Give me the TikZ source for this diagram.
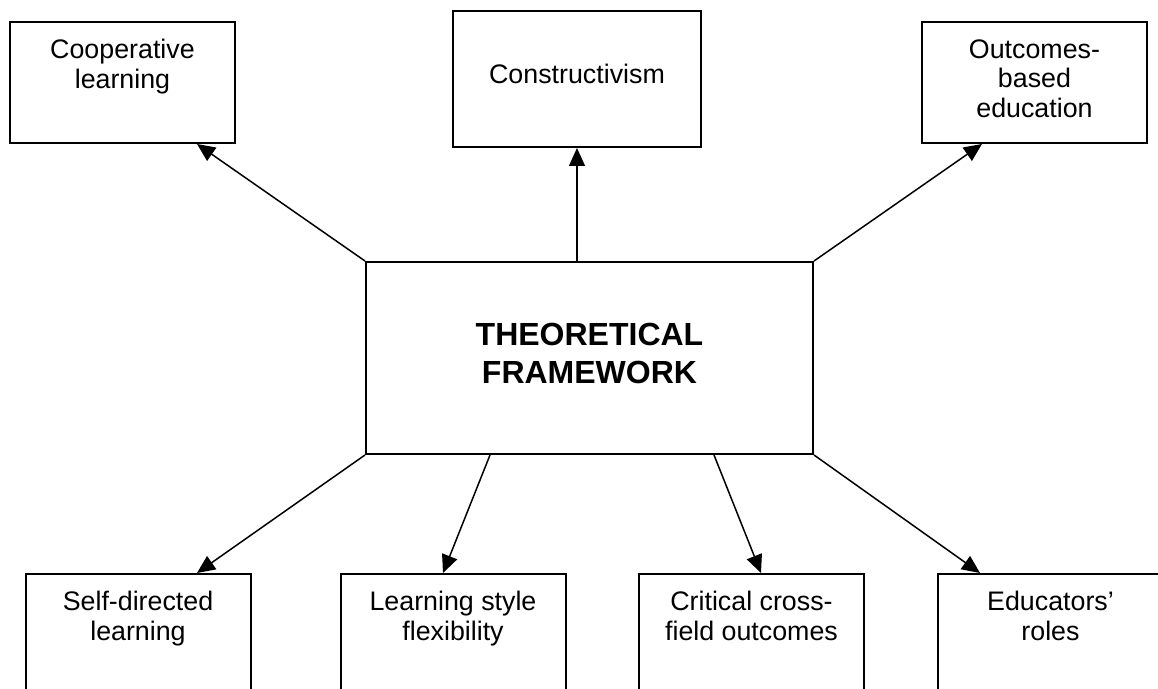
\documentclass[tikz,border=0pt]{standalone}
\usepackage{fontspec}
\setmainfont{Liberation Sans}
\usetikzlibrary{arrows.meta,calc}

\begin{document}
\begin{tikzpicture}[x=0.5pt, y=-0.5pt,
        box/.style={draw, rectangle, line width=1pt, inner sep=0pt, minimum width=112.5pt},
        boxtext/.style={anchor=north, align=center, inner sep=0pt, font=\fontsize{13.4}{14.75}\selectfont},
        link/.style={line width=0.75pt, -{Triangle[length=9pt,width=8pt]}}]
        \clip (0,0) rectangle (1158,689);
        \node[box, minimum height=60.5pt] (coop) at (122.5,82.5) {};
        \node[boxtext] (coop-t) at (122.5,39) {Cooperative\\learning};
        \node[box, minimum width=124pt, minimum height=68pt] (constr) at (577,79) {};
        \node[boxtext] (constr-t) at (577,64) {Constructivism};
        \node[box, minimum height=60.5pt] (obe) at (1034.5,82.5) {};
        \node[boxtext] (obe-t) at (1034.5,39) {Outcomes-\\based\\education};
        \node[box, minimum width=223.5pt, minimum height=96pt] (frame) at (589.5,358) {};
        \node[boxtext, font=\bfseries\fontsize{16}{19}\selectfont] (frame-t) at (589.5,323) {THEORETICAL\\FRAMEWORK};
        \node[box, minimum height=75pt] (sdl) at (138,649) {};
        \node[boxtext] (sdl-t) at (138,591) {Self-directed\\learning};
        \node[box, minimum height=75pt] (lsf) at (453,649) {};
        \node[boxtext] (lsf-t) at (453,591) {Learning style\\flexibility};
        \node[box, minimum height=75pt] (ccfo) at (751.5,649) {};
        \node[boxtext] (ccfo-t) at (751.5,591) {Critical cross-\\field outcomes};
        \node[box, minimum height=75pt] (edu) at (1050.5,649) {};
        \node[boxtext] (edu-t) at (1050.5,591) {Educators’\\roles};
        % Arrows out of the framework box
        \draw[link] (frame.north west) -- ($(coop.south)+(74.5,0)$);
        \draw[link] (frame.north -| constr.south) -- (constr.south);
        \draw[link] (frame.north east) -- ($(obe.south)+(-52.5,0)$);
        \draw[link] (frame.south west) -- ($(sdl.north)+(59,0)$);
        \draw[link] ($(frame.south)+(-99.5,0)$) -- ($(lsf.north)+(-10,0)$);
        \draw[link] ($(frame.south)+(124.5,0)$) -- ($(ccfo.north)+(9.5,0)$);
        \draw[link] (frame.south east) -- ($(edu.north)+(-70.5,0)$);
    \end{tikzpicture}
\end{document}
